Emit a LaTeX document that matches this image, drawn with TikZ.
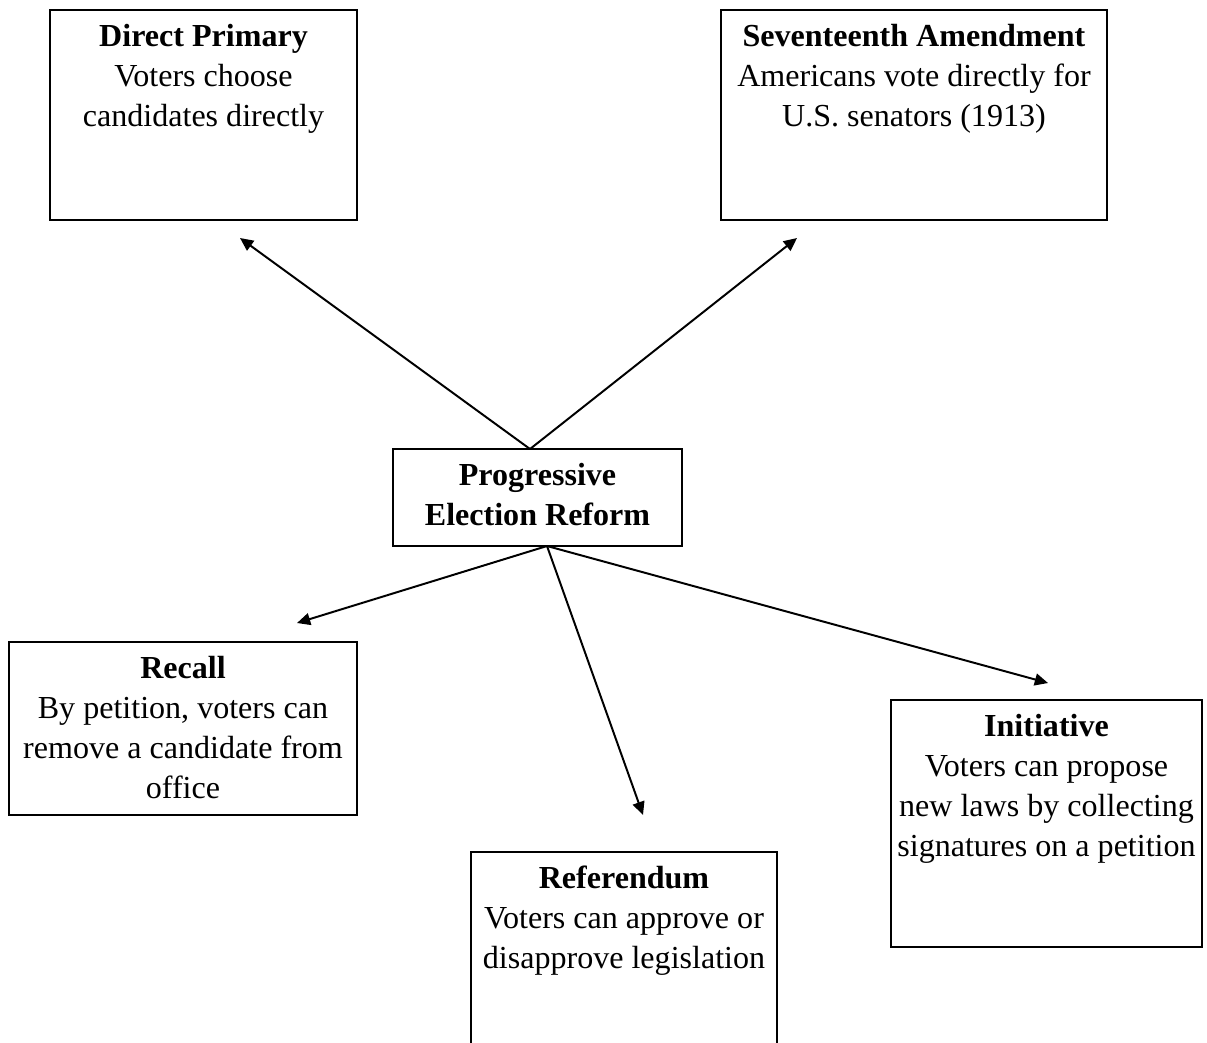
\documentclass[tikz,border=0pt]{standalone}
\usepackage{fontspec}
\setmainfont{Liberation Serif}
\usetikzlibrary{arrows.meta}
\newcommand\firststrut{\rule{0pt}{0.6cm}}
\tikzset{
  boxnode/.style={draw=black, line width=1.7pt, rectangle, inner sep=0pt, outer sep=0pt},
  txtnode/.style={anchor=north, align=center, inner sep=0pt, font=\fontsize{22.8}{28.45}\selectfont},
  arrowline/.style={draw=black, line width=1.4pt, -{Triangle[length=0.33cm, width=0.3cm]}}
}
\begin{document}
\begin{tikzpicture}[x=0.025cm, y=-0.025cm]
\clip (0,0) rectangle (1207,1042);
\fill[white] (0,0) rectangle (1207,1042);
% boxes
\node[boxnode, minimum width=7.675cm, minimum height=5.25cm] (dp) at (203.5,115) {};
\node[boxnode, minimum width=9.65cm, minimum height=5.25cm] (sa) at (914,115) {};
\node[boxnode, minimum width=7.225cm, minimum height=2.425cm] (pe) at (537.5,497.5) {};
\node[boxnode, minimum width=8.7cm, minimum height=4.325cm] (rc) at (183,728.5) {};
\node[boxnode, minimum width=7.65cm, minimum height=5.45cm] (rf) at (624,961) {};
\node[boxnode, minimum width=7.775cm, minimum height=6.175cm] (in) at (1046.5,823.5) {};
% texts
\node[txtnode] (dpt) at (203.5,22) {\firststrut\textbf{Direct Primary}\\Voters choose\\candidates directly};
\node[txtnode] (sat) at (914,22) {\firststrut\textbf{Seventeenth Amendment}\\Americans vote directly for\\U.S. senators (1913)};
\node[txtnode] (pet) at (537.5,461) {\firststrut\textbf{Progressive}\\\textbf{Election Reform}};
\node[txtnode] (rct) at (183,654) {\firststrut\textbf{Recall}\\By petition, voters can\\remove a candidate from\\office};
\node[txtnode] (rft) at (624,864) {\firststrut\textbf{Referendum}\\Voters can approve or\\disapprove legislation};
\node[txtnode] (int) at (1046.5,712) {\firststrut\textbf{Initiative}\\Voters can propose\\new laws by collecting\\signatures on a petition};
% connector anchors
\coordinate (ptop) at (530,449);
\coordinate (pbot) at (547,546);
\coordinate (dpend) at (240,238);
\coordinate (saend) at (797,238);
\coordinate (rcend) at (297,623);
\coordinate (rfend) at (643,815);
\coordinate (inend) at (1048,683);
\draw[arrowline] (ptop) -- (dpend);
\draw[arrowline] (ptop) -- (saend);
\draw[arrowline] (pbot) -- (rcend);
\draw[arrowline] (pbot) -- (rfend);
\draw[arrowline] (pbot) -- (inend);
\end{tikzpicture}
\end{document}
